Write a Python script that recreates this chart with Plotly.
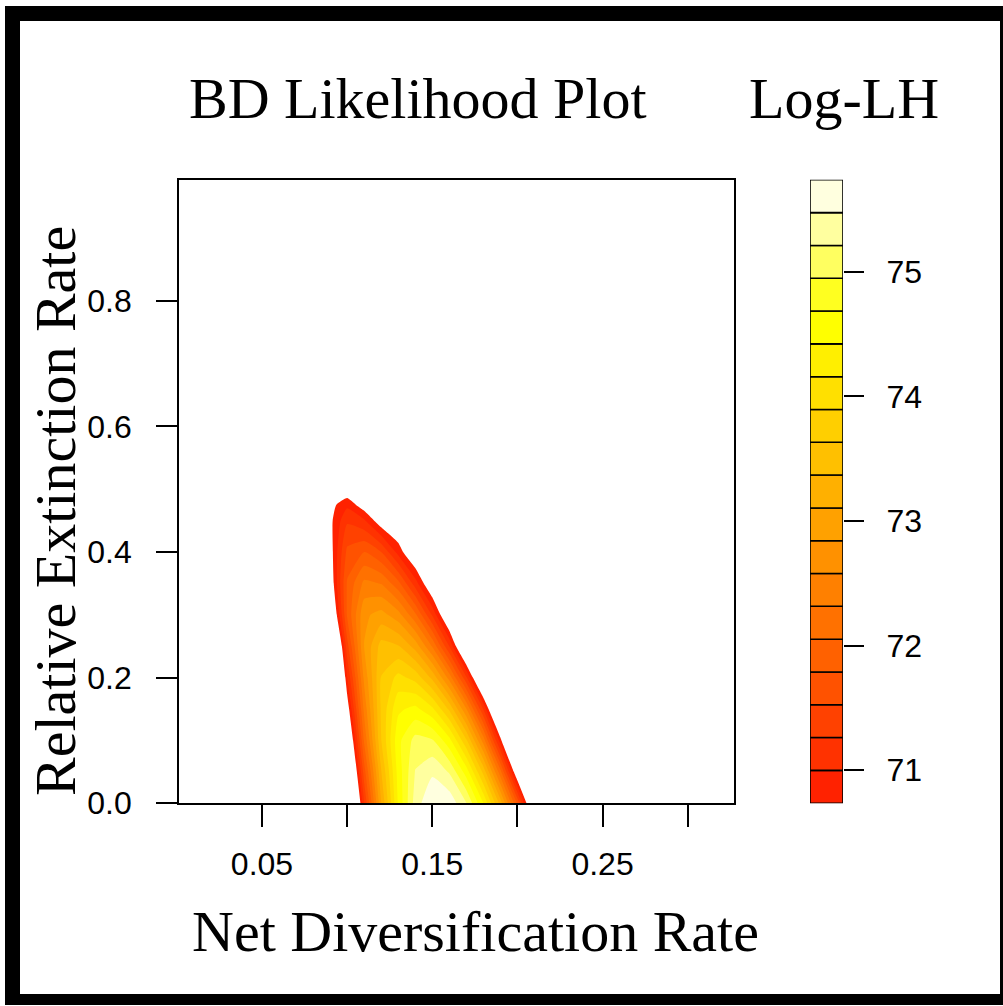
import plotly.graph_objects as go

W, H = 1003, 1006
H_FIG = 1023  # page height used for the figure; positions below are fractions of the 1006-px design

# Grid of the likelihood surface
net_div = [0.08, 0.09, 0.10, 0.11, 0.12, 0.13, 0.14, 0.15, 0.16, 0.17, 0.18, 0.19, 0.20, 0.21, 0.22]
rel_ext = [0.00, 0.05, 0.10, 0.15, 0.20, 0.25, 0.30, 0.35, 0.40, 0.45, 0.475, 0.50]
log_lh = [
    [62.80, 66.10, 68.92, 71.25, 73.10, 74.46, 75.33, 75.72, 75.65, 75.22, 74.42, 73.26, 71.74, 69.86, 67.62],
    [63.69, 66.84, 69.50, 71.67, 73.35, 74.53, 75.22, 75.42, 75.18, 74.56, 73.55, 72.14, 70.35, 68.16, 65.58],
    [64.22, 67.39, 70.01, 72.09, 73.62, 74.60, 75.04, 74.97, 74.51, 73.67, 72.46, 70.86, 68.88, 66.53, 63.79],
    [65.05, 68.08, 70.52, 72.39, 73.67, 74.37, 74.49, 74.21, 73.58, 72.59, 71.25, 69.56, 67.52, 65.13, 62.38],
    [65.66, 68.65, 70.98, 72.64, 73.64, 73.97, 73.80, 73.30, 72.47, 71.31, 69.81, 67.98, 65.82, 63.32, 60.50],
    [66.15, 69.19, 71.42, 72.85, 73.47, 73.39, 73.00, 72.29, 71.26, 69.92, 68.26, 66.29, 64.00, 61.39, 58.47],
    [67.41, 70.03, 71.82, 72.78, 72.94, 72.68, 72.11, 71.23, 70.20, 68.55, 66.75, 64.64, 62.22, 59.49, 56.45],
    [68.26, 70.44, 71.82, 72.38, 72.30, 71.88, 71.13, 70.34, 68.72, 67.03, 65.02, 62.69, 60.04, 57.07, 53.78],
    [68.69, 70.57, 71.59, 71.79, 71.53, 70.90, 70.32, 69.30, 67.80, 65.80, 63.40, 60.69, 57.85, 54.69, 51.21],
    [69.07, 70.65, 71.22, 71.04, 70.52, 70.34, 69.30, 67.80, 65.80, 63.30, 60.30, 56.80, 52.80, 48.30, 43.30],
    [69.40, 70.62, 70.94, 70.55, 69.90, 68.90, 67.50, 65.60, 63.20, 60.30, 56.90, 53.00, 48.60, 43.70, 38.30],
    [69.10, 70.24, 70.47, 70.15, 69.20, 67.90, 66.20, 64.00, 61.40, 58.30, 54.70, 50.60, 46.00, 40.90, 35.30],
]

# Contour levels (20 levels, 19 bands) and the key colours
levels = [70.735, 70.998, 71.262, 71.525, 71.788, 72.051, 72.315, 72.578, 72.841, 73.104,
          73.368, 73.631, 73.894, 74.157, 74.421, 74.684, 74.947, 75.210, 75.474, 75.737]
band_colors = ["#FF2200", "#FF3200", "#FF4100", "#FF5200", "#FF6100", "#FF7100", "#FF8000",
               "#FF9100", "#FFA100", "#FFB000", "#FFC000", "#FFCF00", "#FFE000", "#FFEF00",
               "#FFFF00", "#FFFF20", "#FFFF60", "#FFFF9F", "#FFFFDF"]
x_ticks = [0.05, 0.10, 0.15, 0.20, 0.25, 0.30]
x_ticklabels = ["0.05", "", "0.15", "", "0.25", ""]
y_ticks = [0.0, 0.2, 0.4, 0.6, 0.8]
y_ticklabels = ["0.0", "0.2", "0.4", "0.6", "0.8"]
key_ticks = [71, 72, 73, 74, 75]

step = levels[1] - levels[0]
nb = len(band_colors)
# colour for: below first level (white), each band, above last level
cols_all = ["#FFFFFF"] + band_colors + [band_colors[-1]]
n = len(cols_all) - 1
colorscale = [[k / n, c] for k, c in enumerate(cols_all)]


def px_x(p):
    return p / W


def px_y(p):
    return 1 - p / H


fig = go.Figure()
fig.add_trace(go.Contour(
    x=net_div, y=rel_ext, z=log_lh,
    colorscale=colorscale, showscale=False,
    autocontour=False,
    contours=dict(start=levels[0], end=levels[-1] + 0.001, size=step,
                  coloring="fill", showlines=False),
    line=dict(width=0, smoothing=0.5),
    hoverinfo="skip",
    xaxis="x", yaxis="y",
))

fig.add_trace(go.Bar(
    x=[0] * nb,
    y=[levels[k + 1] - levels[k] for k in range(nb)],
    base=levels[:-1],
    width=1,
    marker=dict(color=band_colors, line=dict(color="black", width=1.6)),
    xaxis="x2", yaxis="y2",
    hoverinfo="skip",
    showlegend=False,
))

tickfont = dict(family="Liberation Sans, Arial, sans-serif", size=32, color="black")
serif = dict(family="Liberation Serif, Times New Roman, serif", size=58, color="black")

fig.update_layout(
    width=W, height=H_FIG,
    autosize=False,
    margin=dict(l=0, r=0, t=0, b=0),
    paper_bgcolor="white",
    plot_bgcolor="white",
    barmode="overlay",
    showlegend=False,
    xaxis=dict(domain=[px_x(179), px_x(734)], range=[0.00125, 0.3272],
               tickvals=x_ticks, ticktext=x_ticklabels, ticks="outside",
               ticklen=22, tickwidth=1.6, tickcolor="black",
               showline=True, mirror=True, linecolor="black", linewidth=1.6,
               showgrid=False, zeroline=False, tickfont=tickfont,
               ticklabelstandoff=10, anchor="y"),
    yaxis=dict(domain=[px_y(804), px_y(180)], range=[0, 0.9928],
               tickvals=y_ticks, ticktext=y_ticklabels,
               ticks="outside", ticklen=21, tickwidth=1.6, tickcolor="black",
               showline=True, mirror=True, linecolor="black", linewidth=1.6,
               showgrid=False, zeroline=False, tickfont=tickfont,
               ticklabelstandoff=18, anchor="x"),
    xaxis2=dict(domain=[px_x(810), px_x(843)], range=[-0.5, 0.5], visible=False,
                anchor="y2", fixedrange=True),
    yaxis2=dict(domain=[px_y(804), px_y(180)], range=[levels[0], levels[-1]],
                side="right", anchor="x2", tickvals=key_ticks,
                ticks="outside", ticklen=20, tickwidth=1.6, tickcolor="black",
                showline=False, showgrid=False, zeroline=False, tickfont=tickfont,
                ticklabelstandoff=16),
    shapes=[
        dict(type="rect", xref="paper", yref="paper", x0=px_x(5), x1=1.0,
             y0=0.0, y1=px_y(6), fillcolor="black", line=dict(width=0), layer="below"),
        dict(type="rect", xref="paper", yref="paper", x0=px_x(20), x1=px_x(1000),
             y0=px_y(995), y1=px_y(21), fillcolor="white", line=dict(width=0), layer="below"),
    ],
    annotations=[
        dict(text="BD Likelihood Plot", x=px_x(417.5), y=px_y(99), xref="paper", yref="paper",
             xanchor="center", yanchor="middle", showarrow=False, font=serif),
        dict(text="Log-LH", x=px_x(844), y=px_y(99), xref="paper", yref="paper",
             xanchor="center", yanchor="middle", showarrow=False, font=serif),
        dict(text="Net Diversification Rate", x=px_x(475), y=px_y(932), xref="paper", yref="paper",
             xanchor="center", yanchor="middle", showarrow=False, font=serif),
        dict(text="Relative Extinction Rate", x=px_x(56), y=px_y(511.5), xref="paper", yref="paper",
             xanchor="center", yanchor="middle", showarrow=False, font=serif, textangle=-90),
    ],
)

fig.write_html(
    "out.html",
    config={"responsive": False, "displayModeBar": False},
    post_script="});document.body.style.margin='0px';document.body.style.padding='0px';"
                "document.documentElement.style.overflow='hidden';(function(){",
)
